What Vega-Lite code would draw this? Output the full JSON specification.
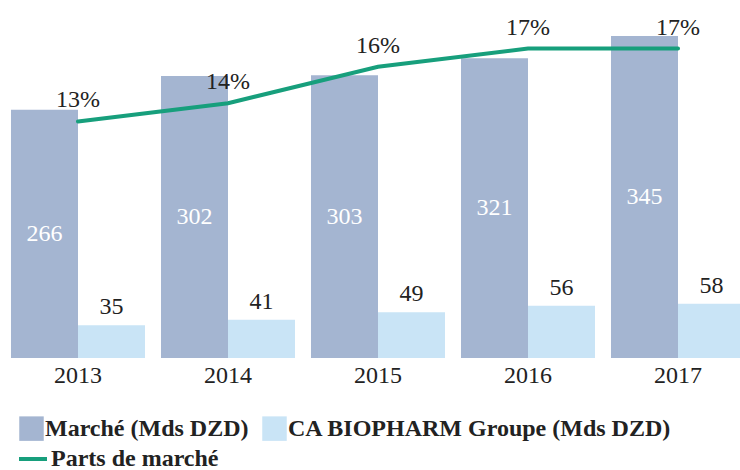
{
  "$schema": "https://vega.github.io/schema/vega-lite/v6.json",
  "width": 740,
  "height": 358,
  "autosize": "none",
  "padding": {"left": 0, "top": 0, "right": 0, "bottom": 112},
  "background": "white",
  "config": {"view": {"stroke": null}, "font": "Liberation Serif"},
  "datasets": {
    "bars": [
      {"year": "2013", "series": "Marché (Mds DZD)", "value": 266},
      {"year": "2013", "series": "CA BIOPHARM Groupe (Mds DZD)", "value": 35},
      {"year": "2014", "series": "Marché (Mds DZD)", "value": 302},
      {"year": "2014", "series": "CA BIOPHARM Groupe (Mds DZD)", "value": 41},
      {"year": "2015", "series": "Marché (Mds DZD)", "value": 303},
      {"year": "2015", "series": "CA BIOPHARM Groupe (Mds DZD)", "value": 49},
      {"year": "2016", "series": "Marché (Mds DZD)", "value": 321},
      {"year": "2016", "series": "CA BIOPHARM Groupe (Mds DZD)", "value": 56},
      {"year": "2017", "series": "Marché (Mds DZD)", "value": 345},
      {"year": "2017", "series": "CA BIOPHARM Groupe (Mds DZD)", "value": 58}
    ],
    "share": [
      {"year": "2013", "share": 0.13},
      {"year": "2014", "share": 0.14},
      {"year": "2015", "share": 0.16},
      {"year": "2016", "share": 0.17},
      {"year": "2017", "share": 0.17}
    ]
  },
  "encoding": {
    "x": {
      "field": "year",
      "type": "nominal",
      "scale": {"range": [3, 753], "paddingInner": 0.1067, "paddingOuter": 0.0533},
      "axis": {"title": null, "ticks": false, "domain": false, "labelFontSize": 24, "labelColor": "#222222", "labelPadding": 5, "labelAngle": 0, "labelFont": "Liberation Serif"}
    }
  },
  "layer": [
    {
      "data": {"name": "bars"},
      "mark": {"type": "bar"},
      "encoding": {
        "xOffset": {"field": "series", "type": "nominal", "scale": {"domain": ["Marché (Mds DZD)", "CA BIOPHARM Groupe (Mds DZD)"], "paddingInner": 0, "paddingOuter": 0}},
        "y": {"field": "value", "type": "quantitative", "scale": {"domain": [0, 383.5]}, "axis": null},
        "fill": {
          "field": "series",
          "type": "nominal",
          "scale": {"domain": ["Marché (Mds DZD)", "CA BIOPHARM Groupe (Mds DZD)"], "range": ["#a4b5d1", "#c9e4f6"]},
          "legend": {"title": null, "orient": "none", "legendX": 19, "legendY": 416, "direction": "horizontal", "symbolType": "square", "symbolSize": 600, "symbolStrokeWidth": 0, "labelFont": "Liberation Serif", "labelFontWeight": "bold", "labelFontSize": 24, "labelColor": "#222222", "labelLimit": 600, "labelOffset": 1, "columnPadding": 13, "padding": 0}
        }
      }
    },
    {
      "data": {"name": "bars"},
      "transform": [{"filter": "datum.series === 'CA BIOPHARM Groupe (Mds DZD)'"}],
      "mark": {"type": "text", "fontSize": 24, "color": "#222222", "baseline": "alphabetic", "dy": -11},
      "encoding": {
        "xOffset": {"field": "series", "type": "nominal"},
        "y": {"field": "value", "type": "quantitative", "scale": {"domain": [0, 383.5]}, "axis": null},
        "text": {"field": "value", "type": "quantitative"}
      }
    },
    {
      "data": {"name": "bars"},
      "transform": [{"filter": "datum.series === 'Marché (Mds DZD)'"}],
      "mark": {"type": "text", "fontSize": 24, "color": "white", "baseline": "middle"},
      "encoding": {
        "xOffset": {"field": "series", "type": "nominal"},
        "y": {"field": "value", "type": "quantitative", "scale": {"domain": [0, 767]}, "axis": null},
        "text": {"field": "value", "type": "quantitative"}
      }
    },
    {
      "data": {"name": "share"},
      "mark": {"type": "line", "strokeWidth": 4, "strokeCap": "round"},
      "encoding": {
        "y": {"field": "share", "type": "quantitative", "scale": {"domain": [0, 0.1967]}, "axis": null},
        "stroke": {
          "datum": "Parts de marché",
          "type": "nominal",
          "scale": {"range": ["#179f7c"]},
          "legend": {"title": null, "orient": "none", "legendX": 17, "legendY": 443, "symbolType": "stroke", "symbolSize": 784, "symbolStrokeWidth": 4, "labelFont": "Liberation Serif", "labelFontWeight": "bold", "labelFontSize": 24, "labelColor": "#222222", "labelLimit": 600, "labelOffset": 2, "padding": 0}
        }
      }
    },
    {
      "data": {"name": "share"},
      "mark": {"type": "text", "fontSize": 24, "color": "#222222", "baseline": "alphabetic", "dy": -14},
      "encoding": {
        "y": {"field": "share", "type": "quantitative", "scale": {"domain": [0, 0.1967]}, "axis": null},
        "text": {"field": "share", "type": "quantitative", "format": ".0%"}
      }
    }
  ],
  "resolve": {"scale": {"y": "independent"}}
}
